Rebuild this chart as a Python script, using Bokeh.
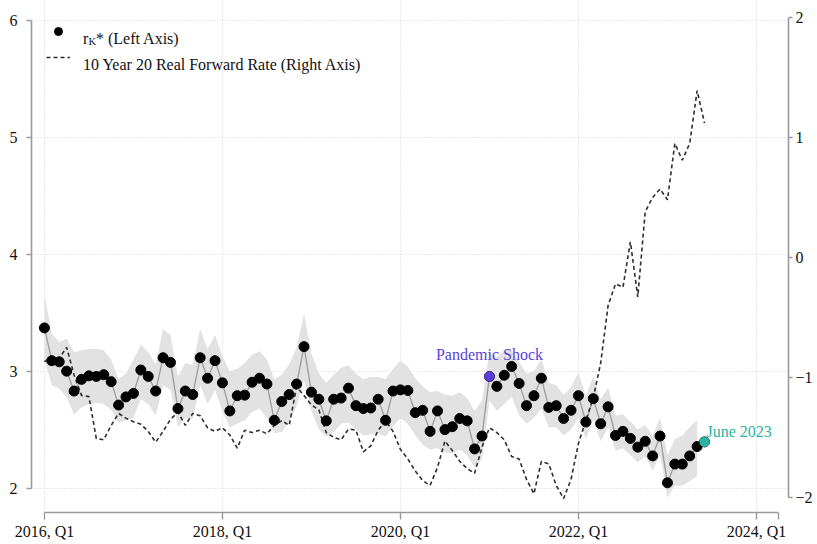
import numpy as np
from bokeh.plotting import figure
from bokeh.models import Range1d, LinearAxis, FixedTicker, Legend, LegendItem, Label
from bokeh.embed import file_html
from bokeh.resources import INLINE

# ---------------- data (monthly, Jan 2016 .. Jun 2023) ----------------
start_year = 2016
rk_star = [3.37, 3.09, 3.08, 3.00, 2.83, 2.93, 2.96, 2.955, 2.97, 2.91,
           2.71, 2.78, 2.81, 3.01, 2.955, 2.83, 3.115, 3.075, 2.68, 2.83,
           2.80, 3.115, 2.94, 3.09, 2.90, 2.66, 2.79, 2.795, 2.905, 2.94,
           2.89, 2.58, 2.74, 2.80, 2.89, 3.21, 2.82, 2.76, 2.575, 2.76,
           2.77, 2.855, 2.705, 2.68, 2.685, 2.76, 2.58, 2.83, 2.84, 2.835,
           2.645, 2.665, 2.485, 2.66, 2.50, 2.525, 2.595, 2.575, 2.335, 2.445,
           2.955, 2.87, 2.965, 3.04, 2.895, 2.705, 2.79, 2.94, 2.69, 2.705,
           2.595, 2.665, 2.79, 2.565, 2.765, 2.55, 2.695, 2.45, 2.485, 2.425,
           2.35, 2.40, 2.275, 2.445, 2.045, 2.205, 2.205, 2.275, 2.355, 2.395]

rk_upper = [3.66, 3.32, 3.25, 3.28, 3.16, 3.18, 3.19, 3.19, 3.18, 3.10,
            2.93, 2.98, 3.10, 3.23, 3.16, 3.06, 3.36, 3.31, 2.95, 3.07,
            3.05, 3.36, 3.19, 3.31, 3.13, 3.00, 3.02, 3.07, 3.14, 3.17,
            3.10, 2.93, 2.97, 3.06, 3.20, 3.49, 3.15, 2.98, 2.90, 2.97,
            3.03, 3.05, 2.98, 2.93, 2.95, 2.95, 2.93, 3.02, 3.09, 3.04,
            2.94, 2.87, 2.82, 2.83, 2.80, 2.79, 2.82, 2.77, 2.66, 2.75,
            3.16, 3.12, 3.18, 3.18, 3.08, 2.98, 3.00, 3.10, 2.90, 2.88,
            2.80, 2.86, 2.99, 2.78, 2.96, 2.76, 2.86, 2.62, 2.63, 2.57,
            2.50, 2.54, 2.45, 2.60, 2.28, 2.42, 2.45, 2.52, 2.58]

rk_lower = [3.10, 2.88, 2.85, 2.78, 2.63, 2.69, 2.72, 2.73, 2.72, 2.67,
            2.56, 2.58, 2.60, 2.76, 2.72, 2.62, 2.88, 2.84, 2.52, 2.60,
            2.59, 2.88, 2.72, 2.84, 2.66, 2.52, 2.55, 2.58, 2.65, 2.68,
            2.60, 2.47, 2.48, 2.57, 2.70, 2.92, 2.66, 2.50, 2.44, 2.48,
            2.55, 2.56, 2.50, 2.45, 2.46, 2.47, 2.44, 2.53, 2.60, 2.55,
            2.45, 2.37, 2.33, 2.34, 2.30, 2.30, 2.33, 2.28, 2.18, 2.25,
            2.75, 2.66, 2.72, 2.78, 2.62, 2.55, 2.60, 2.68, 2.52, 2.52,
            2.45, 2.50, 2.60, 2.42, 2.58, 2.40, 2.52, 2.32, 2.34, 2.28,
            2.22, 2.27, 2.15, 2.28, 1.92, 2.02, 2.02, 2.06, 2.10]

fwd_rate = [-0.87, -0.83, -0.84, -0.75, -0.98, -1.15, -1.16, -1.51, -1.52, -1.40,
            -1.30, -1.34, -1.37, -1.39, -1.45, -1.54, -1.45, -1.35, -1.29, -1.40,
            -1.30, -1.32, -1.42, -1.45, -1.42, -1.48, -1.59, -1.44, -1.46, -1.44,
            -1.47, -1.40, -1.36, -1.40, -1.08, -1.15, -1.23, -1.27, -1.46, -1.50,
            -1.52, -1.43, -1.44, -1.62, -1.57, -1.44, -1.36, -1.45, -1.60, -1.68,
            -1.78, -1.86, -1.90, -1.75, -1.53, -1.61, -1.70, -1.76, -1.80, -1.58,
            -1.42, -1.46, -1.52, -1.66, -1.68, -1.85, -1.97, -1.70, -1.72, -1.90,
            -2.01, -1.85, -1.55, -1.36, -1.17, -0.88, -0.40, -0.22, -0.25, 0.13,
            -0.33, 0.38, 0.50, 0.57, 0.48, 0.95, 0.81, 0.95, 1.39, 1.12]

x_ticks = [2016, 2018, 2020, 2022, 2024]
x_tick_labels = ["2016, Q1", "2018, Q1", "2020, Q1", "2022, Q1", "2024, Q1"]
x_axis_end = 2024.25
left_ticks = [2, 3, 4, 5, 6]
right_ticks = [-2, -1, 0, 1, 2]
pandemic_index = 60
latest_index = len(rk_star) - 1

# ---------------- styling ----------------
FONT = "Liberation Serif"
AXIS_GREY = "#9a9a9a"
GRID_GREY = "#d6d6d6"
BAND = "#e2e2e2"
VIOLET = "#5b3fd8"
TEAL = "#2ab3a3"

dates = start_year + np.arange(len(rk_star)) / 12.0
band_dates = dates[:len(rk_upper)]

p = figure(width=815, height=542, output_backend="svg", toolbar_location=None,
           x_range=Range1d(2015.855, 2024.36), y_range=Range1d(1.791, 6.171),
           min_border_left=31, min_border_right=22, min_border_bottom=30, min_border_top=0,
           x_axis_location=None, y_axis_location=None)
p.outline_line_color = None
p.background_fill_color = "white"
p.border_fill_color = "white"
p.extra_y_ranges = {"fwd": Range1d(-2.126, 2.141)}

def style_axis(ax):
    ax.axis_line_color = AXIS_GREY
    ax.axis_line_width = 1.6
    ax.major_tick_line_color = AXIS_GREY
    ax.major_tick_line_width = 1.4
    ax.major_tick_in = 0
    ax.minor_tick_line_color = None
    ax.major_label_text_font = FONT
    ax.major_label_text_font_size = "16px"
    ax.major_label_text_color = "#111111"

xaxis = LinearAxis(ticker=FixedTicker(ticks=x_ticks + [x_axis_end]), bounds=(x_ticks[0], x_axis_end))
overrides = {t: lab for t, lab in zip(x_ticks, x_tick_labels)}
overrides[x_axis_end] = ""
xaxis.major_label_overrides = overrides
style_axis(xaxis)
xaxis.major_tick_out = 7
xaxis.major_label_standoff = 3
p.add_layout(xaxis, "below")

yaxis = LinearAxis(ticker=FixedTicker(ticks=left_ticks), bounds=(left_ticks[0], left_ticks[-1]))
style_axis(yaxis)
yaxis.major_tick_out = 5
yaxis.major_label_standoff = 9
yaxis.major_label_orientation = "horizontal"
p.add_layout(yaxis, "left")

raxis = LinearAxis(y_range_name="fwd", ticker=FixedTicker(ticks=right_ticks),
                   bounds=(right_ticks[0], right_ticks[-1]))
style_axis(raxis)
raxis.major_tick_out = 4
raxis.major_label_standoff = 3
raxis.major_label_orientation = "horizontal"
p.add_layout(raxis, "right")

p.xgrid.ticker = FixedTicker(ticks=x_ticks)
p.ygrid.ticker = FixedTicker(ticks=left_ticks)
for g in (p.xgrid, p.ygrid):
    g.grid_line_color = GRID_GREY
    g.grid_line_dash = "1 2"
    g.grid_line_width = 1.2

# band
p.varea(x=band_dates, y1=rk_lower, y2=rk_upper, fill_color=BAND, fill_alpha=1.0)
# connecting line
p.line(dates, rk_star, line_color="#9c9c9c", line_width=1.3)
# forward rate (right axis)
fwd_r = p.line(dates, fwd_rate, y_range_name="fwd", line_color="#2e2e2e",
               line_width=1.6, line_dash="4 3")
# dots
dots_r = p.scatter(dates, rk_star, size=10, fill_color="black", line_color="black")
p.scatter([dates[pandemic_index]], [rk_star[pandemic_index]], size=9.5,
          fill_color=VIOLET, line_color=VIOLET)
p.scatter([dates[latest_index]], [rk_star[latest_index]], size=9.5,
          fill_color=TEAL, line_color=TEAL)

# annotations
p.add_layout(Label(x=dates[pandemic_index], y=rk_star[pandemic_index], y_offset=22,
                   text="Pandemic Shock", text_align="center", text_baseline="alphabetic",
                   text_font=FONT, text_font_size="16px", text_color=VIOLET))
p.add_layout(Label(x=dates[latest_index], y=rk_star[latest_index], x_offset=2, y_offset=10.5,
                   text="June 2023", text_align="left", text_baseline="alphabetic",
                   text_font=FONT, text_font_size="16px", text_color=TEAL))

# legend (samples) + texts
legend = Legend(items=[LegendItem(label="", renderers=[dots_r]),
                       LegendItem(label="", renderers=[fwd_r])],
                location=(15, 445), orientation="vertical",
                glyph_width=24, glyph_height=20, label_height=20, label_width=0,
                label_standoff=0, spacing=6, padding=0, margin=0,
                background_fill_alpha=0, border_line_color=None)
p.add_layout(legend, "center")

def legend_text(x, y, text, size="16px"):
    p.add_layout(Label(x=x, y=y, x_units="screen", y_units="screen", text=text,
                       text_font=FONT, text_font_size=size, text_color="#111111",
                       text_align="left", text_baseline="alphabetic"))

legend_text(51.5, 474.5, "r")
legend_text(57, 471, "K", "10.5px")
legend_text(64.5, 474.5, "* (Left Axis)")
legend_text(51.5, 448, "10 Year 20 Real Forward Rate (Right Axis)")

open("out.html", "w").write(file_html(p, INLINE))
